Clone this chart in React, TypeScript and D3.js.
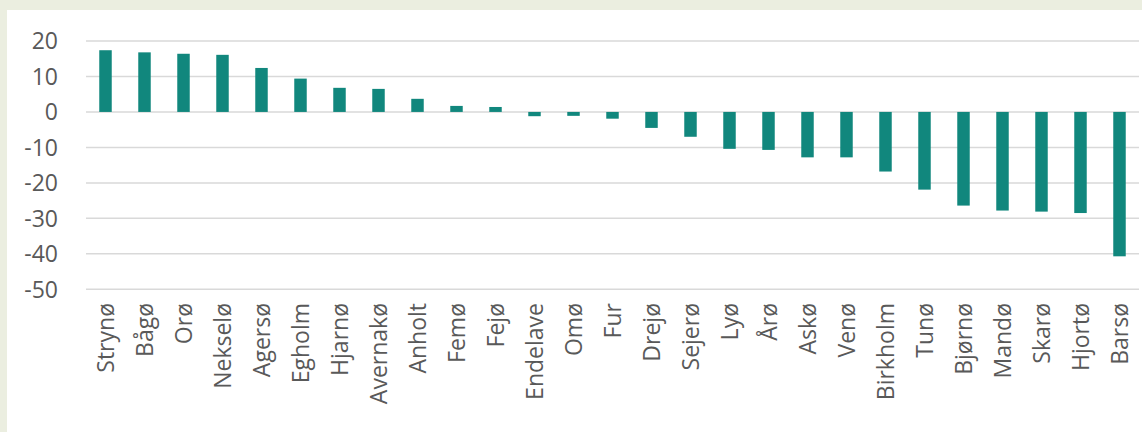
import React from "react";
import * as d3 from "d3";

const categories = [
  "Strynø", "Bågø", "Orø", "Nekselø", "Agersø", "Egholm", "Hjarnø", "Avernakø",
  "Anholt", "Femø", "Fejø", "Endelave", "Omø", "Fur", "Drejø", "Sejerø", "Lyø",
  "Årø", "Askø", "Venø", "Birkholm", "Tunø", "Bjørnø", "Mandø", "Skarø", "Hjortø", "Barsø",
];
const values = [
  17.4, 16.8, 16.4, 16.1, 12.4, 9.4, 6.8, 6.5,
  3.7, 1.7, 1.4, -1.2, -1.1, -1.9, -4.5, -7.0, -10.4,
  -10.7, -12.8, -12.8, -16.8, -21.9, -26.4, -27.8, -28.1, -28.5, -40.7,
];
const yTicks = [20, 10, 0, -10, -20, -30, -40, -50];

const W = 1142;
const H = 432;

export default function App() {
  const x = d3
    .scaleBand<string>()
    .domain(categories)
    .range([86, 1139])
    .paddingInner(0.68)
    .paddingOuter(0.34);
  const y = d3.scaleLinear().domain([-50, 20]).range([289.3, 41]);
  const font = "'Open Sans', 'Noto Sans', sans-serif";
  const textColor = "#595959";

  return (
    <svg
      width={W}
      height={H}
      style={{ position: "absolute", left: 0, top: 0 }}
      xmlns="http://www.w3.org/2000/svg"
    >
      <rect x={0} y={0} width={W} height={H} fill="#EBEEE0" />
      <rect x={7} y={10} width={W - 7} height={H - 10} fill="#FFFFFF" />
      {yTicks.map((t) => (
        <g key={t}>
          <line
            x1={86}
            x2={1139}
            y1={y(t)}
            y2={y(t)}
            stroke="#D9D9D9"
            strokeWidth={1.5}
          />
          <text
            x={58}
            y={y(t)}
            dy="0.36em"
            textAnchor="end"
            fontFamily={font}
            fontSize={23}
            fill={textColor}
          >
            {t}
          </text>
        </g>
      ))}
      {categories.map((c, i) => {
        const v = values[i];
        const y0 = y(0);
        const y1 = y(v);
        return (
          <rect
            key={c}
            x={x(c)}
            width={x.bandwidth()}
            y={Math.min(y0, y1)}
            height={Math.abs(y1 - y0)}
            fill="#11877D"
          />
        );
      })}
      {categories.map((c) => {
        const cx = (x(c) ?? 0) + x.bandwidth() / 2;
        return (
          <text
            key={c}
            transform={`translate(${cx},303) rotate(-90)`}
            dy="0.36em"
            textAnchor="end"
            fontFamily={font}
            fontSize={23}
            fill={textColor}
          >
            {c}
          </text>
        );
      })}
    </svg>
  );
}
